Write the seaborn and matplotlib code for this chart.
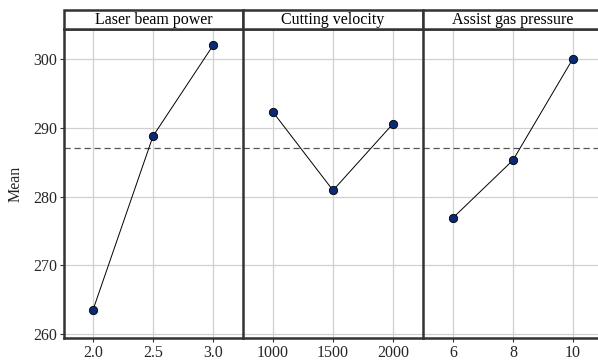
import matplotlib
matplotlib.use("Agg")
import matplotlib.pyplot as plt
import seaborn as sns
import pandas as pd
from matplotlib.patches import Rectangle

# ---- data ----
factor_titles = ["Laser beam power", "Cutting velocity", "Assist gas pressure"]
laser_levels = [2.0, 2.5, 3.0]
laser_means = [263.5, 288.8, 302.0]
velocity_levels = [1000, 1500, 2000]
velocity_means = [292.3, 280.9, 290.6]
gas_levels = [6, 8, 10]
gas_means = [276.9, 285.3, 300.1]
grand_mean = 287.1
laser_ticklabels = ["2.0", "2.5", "3.0"]
velocity_ticklabels = ["1000", "1500", "2000"]
gas_ticklabels = ["6", "8", "10"]
y_ticks = [260, 270, 280, 290, 300]

sns.set_theme(style="white")
plt.rcParams["font.family"] = ["Liberation Serif", "DejaVu Serif"]

W, H = 598, 364
fig = plt.figure(figsize=(W / 100, H / 100), dpi=100)

left_px, bottom_px, top_px = 64, 338, 29
panel_edges = [64, 243, 423, 603]
strip_top = 10

xlims = [(1.758, 3.25), (750, 2250), (5.0, 11.0)]
levels = [laser_levels, velocity_levels, gas_levels]
means = [laser_means, velocity_means, gas_means]
ticklabels = [laser_ticklabels, velocity_ticklabels, gas_ticklabels]

ylim = (259.4, 304.4)
edge_col = "#333333"
tick_fs = 11.5

axes = []
for i in range(3):
    x0 = panel_edges[i]
    x1 = panel_edges[i + 1]
    ax = fig.add_axes([x0 / W, 1 - bottom_px / H, (x1 - x0) / W, (bottom_px - top_px) / H])
    axes.append(ax)
    df = pd.DataFrame({"level": levels[i], "mean": means[i]})
    ax.grid(True, color="#d0d0d0", linewidth=0.9, linestyle="-")
    ax.set_axisbelow(True)
    sns.lineplot(data=df, x="level", y="mean", ax=ax, color="black", linewidth=0.7,
                 zorder=3)
    sns.scatterplot(data=df, x="level", y="mean", ax=ax, color="#0a2a78",
                    edgecolor="#000000", linewidth=0.6, s=36, zorder=4)
    ax.axhline(grand_mean, color="#555555", linestyle=(0, (5, 3)), linewidth=0.9, zorder=2)
    ax.set_xlim(*xlims[i])
    ax.set_ylim(*ylim)
    ax.set_xticks(levels[i])
    ax.set_xticklabels(ticklabels[i], fontsize=tick_fs)
    ax.set_xlabel("")
    ax.set_ylabel("")
    ax.set_yticks(y_ticks)
    ax.tick_params(axis="x", length=3, width=0.8, color=edge_col, pad=2, bottom=True)
    if i == 0:
        ax.set_yticklabels([str(v) for v in y_ticks], fontsize=tick_fs)
        ax.tick_params(axis="y", length=3, width=0.8, color=edge_col, pad=2, left=True)
        ax.set_ylabel("Mean", fontsize=11.5, labelpad=7)
    else:
        ax.tick_params(axis="y", left=False, labelleft=False)
    for s in ["left", "bottom", "top"]:
        ax.spines[s].set_visible(True)
        ax.spines[s].set_color(edge_col)
        ax.spines[s].set_linewidth(1.8)
    ax.spines["right"].set_visible(False)
    # strip header
    strip_h = (top_px - strip_top) / (bottom_px - top_px)
    rect = Rectangle((0, 1), 1, strip_h, transform=ax.transAxes, clip_on=False,
                     facecolor="white", edgecolor=edge_col, linewidth=1.8, zorder=5)
    ax.add_patch(rect)
    ax.text(0.5, 1 + strip_h / 2, factor_titles[i], transform=ax.transAxes,
            ha="center", va="center", fontsize=11.5, color="black", zorder=6)

fig.savefig("out.png", dpi=100)
